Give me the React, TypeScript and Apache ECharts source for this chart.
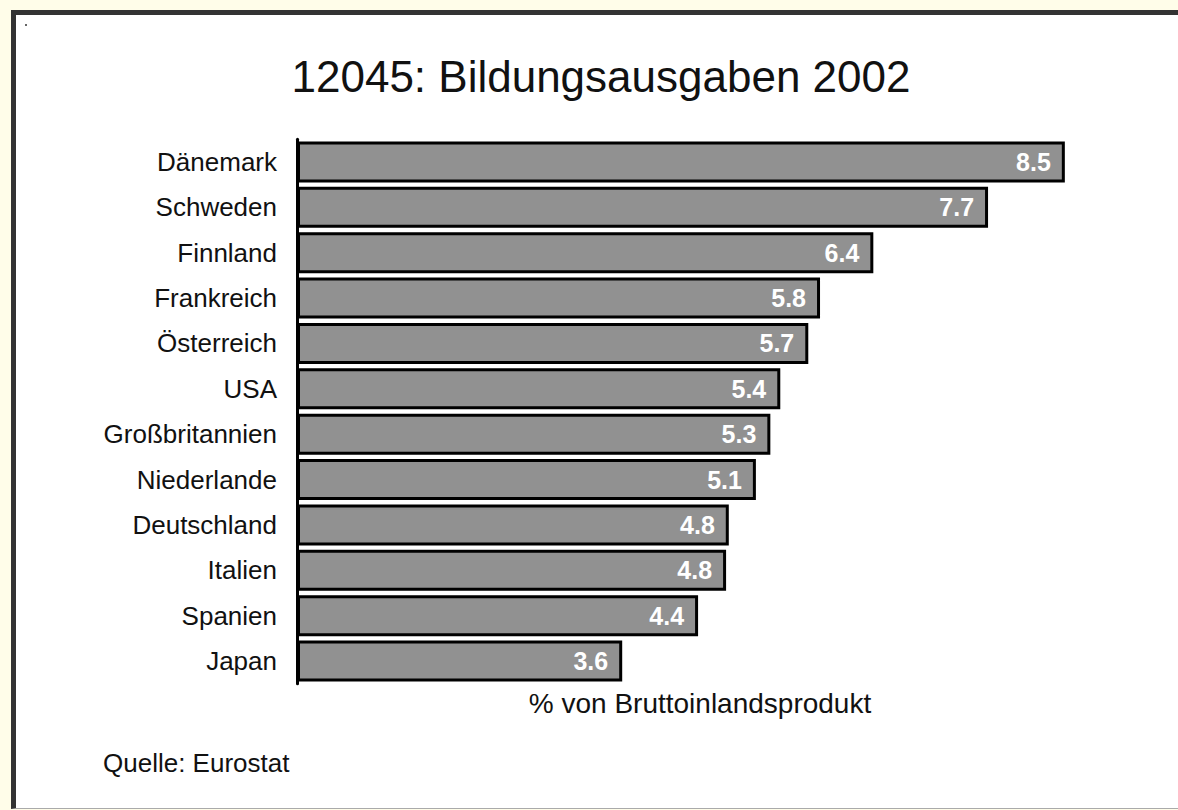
import React, { useEffect, useRef } from "react";
import * as echarts from "echarts";

const categories = [
  "Dänemark",
  "Schweden",
  "Finnland",
  "Frankreich",
  "Österreich",
  "USA",
  "Großbritannien",
  "Niederlande",
  "Deutschland",
  "Italien",
  "Spanien",
  "Japan",
];
// bar lengths
const barValues = [8.5, 7.65, 6.38, 5.79, 5.66, 5.35, 5.24, 5.08, 4.78, 4.75, 4.44, 3.6];
// value labels as printed in the picture
const valueLabels = ["8.5", "7.7", "6.4", "5.8", "5.7", "5.4", "5.3", "5.1", "4.8", "4.8", "4.4", "3.6"];

const titleText = "12045: Bildungsausgaben 2002";
const axisNameText = "% von Bruttoinlandsprodukt";
const sourceText = "Quelle: Eurostat";

const FONT = "'Liberation Sans', Arial, Helvetica, sans-serif";

export default function App() {
  const ref = useRef<HTMLDivElement>(null);

  useEffect(() => {
    if (!ref.current) return;
    const chart = echarts.init(ref.current, null, { renderer: "svg" });
    chart.setOption({
      animation: false,
      backgroundColor: "transparent",
      grid: { left: 297, right: 68, top: 139.3, height: 544.4, containLabel: false },
      xAxis: { type: "value", min: 0, max: 9, show: false },
      yAxis: {
        type: "category",
        data: categories,
        inverse: true,
        axisLine: { show: true, lineStyle: { color: "#000", width: 3 } },
        axisTick: { show: false },
        splitLine: { show: false },
        axisLabel: {
          margin: 20,
          fontSize: 26,
          fontFamily: FONT,
          color: "#111",
        },
      },
      series: [
        {
          type: "bar",
          data: barValues,
          barWidth: 41,
          itemStyle: { color: "#919191", borderColor: "#000", borderWidth: 3 },
          label: {
            show: true,
            position: "insideRight",
            distance: 14,
            fontSize: 25,
            fontWeight: "bold",
            fontFamily: FONT,
            color: "#fff",
            formatter: (p: any) => valueLabels[p.dataIndex],
          },
        },
      ],
      graphic: [
        {
          type: "rect",
          shape: { x: 25, y: 24, width: 2, height: 2 },
          style: { fill: "#666" },
        },
        {
          type: "text",
          x: 601,
          y: 76,
          style: {
            text: titleText,
            fontSize: 44,
            fontFamily: FONT,
            fill: "#111",
            textAlign: "center",
            textVerticalAlign: "middle",
          },
        },
        {
          type: "text",
          x: 700,
          y: 703,
          style: {
            text: axisNameText,
            fontSize: 28,
            fontFamily: FONT,
            fill: "#111",
            textAlign: "center",
            textVerticalAlign: "middle",
          },
        },
        {
          type: "text",
          x: 103,
          y: 763,
          style: {
            text: sourceText,
            fontSize: 26,
            fontFamily: FONT,
            fill: "#111",
            textAlign: "left",
            textVerticalAlign: "middle",
          },
        },
      ],
    });
    return () => chart.dispose();
  }, []);

  return (
    <div
      style={{
        position: "fixed",
        left: 0,
        top: 0,
        width: 1178,
        height: 810,
        background: "#fffde9",
        overflow: "hidden",
      }}
    >
      <div
        style={{
          position: "absolute",
          left: 11,
          top: 10,
          width: 1167,
          height: 799,
          boxSizing: "border-box",
          background: "#fff",
          borderLeft: "5px solid #333",
          borderTop: "5px solid #333",
          borderBottom: "1px solid #aaa",
        }}
      />
      <div
        ref={ref}
        style={{ position: "absolute", left: 0, top: 0, width: 1178, height: 810 }}
      />
    </div>
  );
}
